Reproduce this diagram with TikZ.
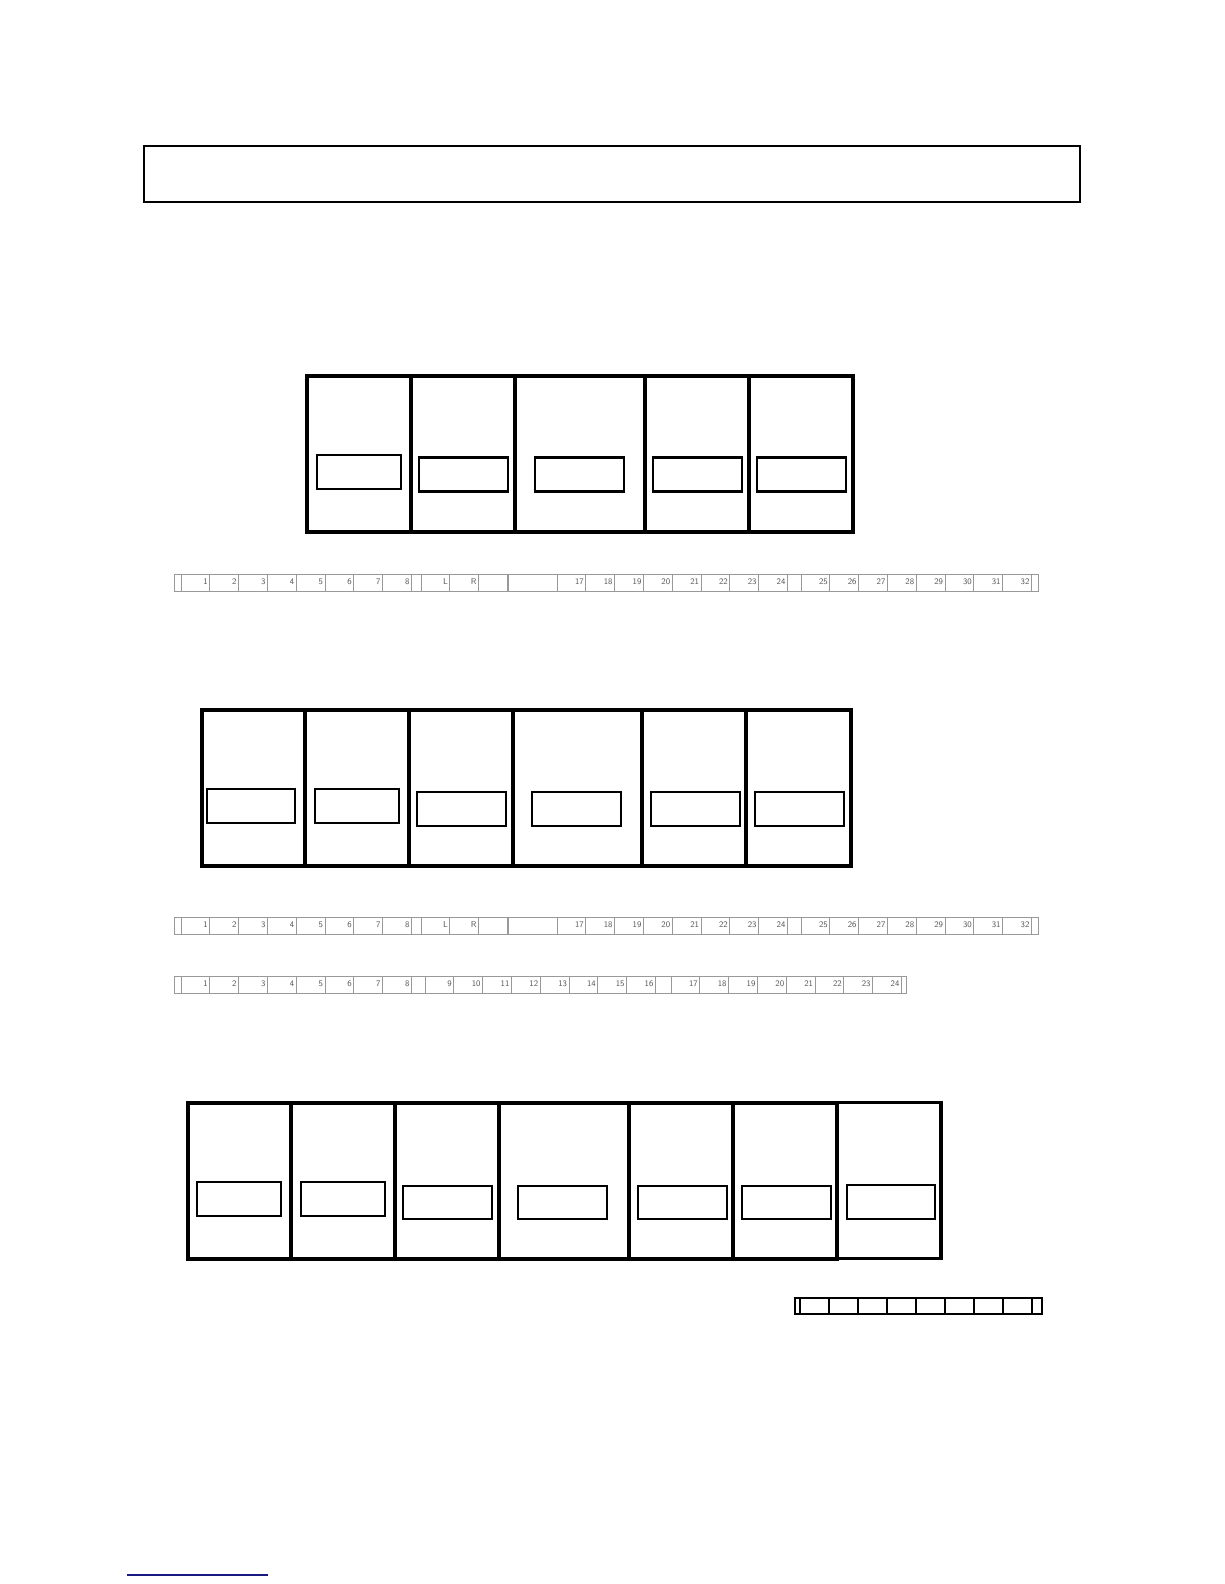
\documentclass[tikz,border=0pt]{standalone}
\usepackage{tikz}
\definecolor{rulenavy}{RGB}{25,25,130}
\tikzset{
    banner/.style = {
        draw,
        shape=rectangle,
        minimum width=936pt,
        minimum height=56pt,
        line width=2.6pt
    },
    bay/.style = {
        draw,
        shape=rectangle,
        inner sep=0pt,
        minimum width=104pt,
        minimum height=156pt,
        line width=3.4pt
    },
    slot/.style = {
        draw,
        shape=rectangle,
        inner sep=0pt,
        minimum width=89pt,
        minimum height=34pt,
        line width=1.6pt
    },
    slotb/.style = {
        slot,
        line width=2.2pt
    },
    strip/.style = {
        draw=black!40,
        line width=0.7pt
    },
    cell/.style = {
        draw=black!40,
        line width=0.7pt,
        shape=rectangle,
        minimum width=28.8pt,
        minimum height=17pt,
        text width=24.8pt,
        inner xsep=2pt,
        inner ysep=0pt,
        text height=6pt,
        text depth=2pt,
        align=right,
        text=black!65,
        font=\sffamily\fontsize{8.5}{9}\selectfont
    },
    tab/.style = {
        draw,
        line width=1.3pt,
        shape=rectangle,
        minimum width=29pt,
        minimum height=16pt,
        inner sep=0pt
    },
}

\begin{document}
\begin{tikzpicture}[x=1pt, y=-1pt]
            \useasboundingbox[fill=white] (0,0) rectangle (1224,1584);

            \node[banner] (title) at (612,174) {};

            % upper panel
            \node[bay] (a1) at (359,454) {};
            \node[bay] (a2) at (463,454) {};
            \node[bay, minimum width=130pt] (a3) at (580,454) {};
            \node[bay] (a4) at (697,454) {};
            \node[bay] (a5) at (801,454) {};

            \node[slot, minimum width=84pt] (wa1) at (359,472) {};
            \node[slotb] (wa2) at (463.5,474.5) {};
            \node[slotb] (wa3) at (579.5,474.5) {};
            \node[slotb] (wa4) at (697.5,474.5) {};
            \node[slotb] (wa5) at (801.5,474.5) {};

            \path[strip] (174,574) rectangle (1038,591);
            \path[strip] (181,574) -- (181,591);
            \foreach \n [count=\i from 0] in {1,...,8}
                \node[cell] (ua\i) at (195.4+28.8*\i,582.5) {\n};
            \foreach \n [count=\i from 0] in {L,R,{}}
                \node[cell] (ub\i) at (435.4+28.8*\i,582.5) {\n};
            \node[cell, minimum width=49pt, text width=45pt] (ugap) at (532.5,582.5) {};
            \foreach \n [count=\i from 0] in {17,...,24}
                \node[cell] (uc\i) at (571.4+28.8*\i,582.5) {\n};
            \foreach \n [count=\i from 0] in {25,...,32}
                \node[cell] (ud\i) at (815.4+28.8*\i,582.5) {\n};

            % middle panel
            \node[bay, minimum width=103pt] (b1) at (253.5,788) {};
            \node[bay] (b2) at (357,788) {};
            \node[bay] (b3) at (461,788) {};
            \node[bay, minimum width=129pt] (b4) at (577.5,788) {};
            \node[bay] (b5) at (694,788) {};
            \node[bay, minimum width=105pt] (b6) at (798.5,788) {};

            \node[slotb, minimum width=88pt] (wb1) at (251,806) {};
            \node[slot, minimum width=84pt] (wb2) at (357,806) {};
            \node[slotb] (wb3) at (461.5,809) {};
            \node[slotb] (wb4) at (576.5,809) {};
            \node[slotb] (wb5) at (695.5,809) {};
            \node[slotb] (wb6) at (799.5,809) {};

            \path[strip] (174,917) rectangle (1038,934);
            \path[strip] (181,917) -- (181,934);
            \foreach \n [count=\i from 0] in {1,...,8}
                \node[cell] (ma\i) at (195.4+28.8*\i,925.5) {\n};
            \foreach \n [count=\i from 0] in {L,R,{}}
                \node[cell] (mb\i) at (435.4+28.8*\i,925.5) {\n};
            \node[cell, minimum width=49pt, text width=45pt] (mgap) at (532.5,925.5) {};
            \foreach \n [count=\i from 0] in {17,...,24}
                \node[cell] (mc\i) at (571.4+28.8*\i,925.5) {\n};
            \foreach \n [count=\i from 0] in {25,...,32}
                \node[cell] (md\i) at (815.4+28.8*\i,925.5) {\n};

            \path[strip] (174,976) rectangle (906,993);
            \path[strip] (181,976) -- (181,993);
            \foreach \n [count=\i from 0] in {1,...,8}
                \node[cell] (na\i) at (195.4+28.8*\i,984.5) {\n};
            \foreach \n [count=\i from 0] in {9,...,16}
                \node[cell] (nb\i) at (439.4+28.8*\i,984.5) {\n};
            \foreach \n [count=\i from 0] in {17,...,24}
                \node[cell] (nc\i) at (685.4+28.8*\i,984.5) {\n};

            % lower panel
            \node[bay, minimum width=103pt] (c1) at (239.5,1181) {};
            \node[bay] (c2) at (343,1181) {};
            \node[bay] (c3) at (447,1181) {};
            \node[bay, minimum width=130pt] (c4) at (564,1181) {};
            \node[bay] (c5) at (681,1181) {};
            \node[bay] (c6) at (785,1181) {};
            \node[bay] (c7) at (889,1180.5) {};

            \node[slot, minimum width=84pt] (wc1) at (239,1199) {};
            \node[slot, minimum width=84pt] (wc2) at (343,1199) {};
            \node[slot, minimum height=33pt] (wc3) at (447.5,1202.5) {};
            \node[slot, minimum height=33pt] (wc4) at (562.5,1202.5) {};
            \node[slot, minimum height=33pt] (wc5) at (682.5,1202.5) {};
            \node[slot, minimum height=33pt] (wc6) at (786.5,1202.5) {};
            \node[slotb, minimum width=88pt] (wc7) at (891,1202) {};

            \path[draw, line width=1.3pt] (795,1298) rectangle (1042,1314);
            \path[draw, line width=1.3pt] (800,1298) -- (800,1314);
            \foreach \i in {0,...,7}
                \node[tab] (t\i) at (814.5+29*\i,1306) {};

            \path[draw, color=rulenavy, line width=1.2pt] (127,1575) -- (268,1575);
        \end{tikzpicture}
\end{document}
